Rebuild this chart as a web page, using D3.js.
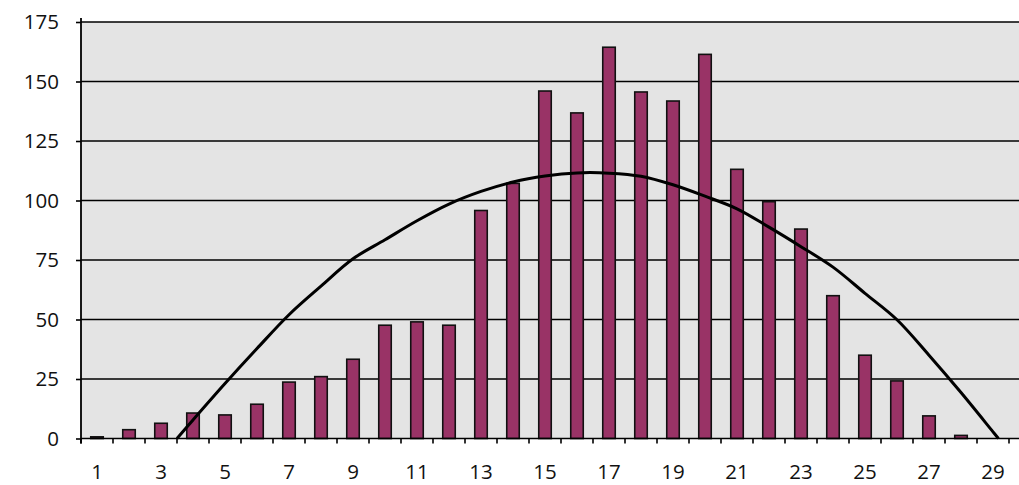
<!DOCTYPE html>
<html>
<head>
<meta charset="utf-8">
<script src="https://cdn.jsdelivr.net/npm/d3@7"></script>
<style>
  html, body { margin: 0; padding: 0; background: #ffffff; }
  svg { display: block; }
  .tick text { font-family: "Open Sans", "Noto Sans", sans-serif; font-size: 20.5px; fill: #111; }
</style>
</head>
<body>
<svg id="chart" width="1019" height="485"></svg>
<script>
// Category numbers along the horizontal axis
const categories = [1,2,3,4,5,6,7,8,9,10,11,12,13,14,15,16,17,18,19,20,21,22,23,24,25,26,27,28,29];
// Bar heights, one per category
const counts = [0.7,3.7,6.4,10.7,9.9,14.4,23.7,26,33.3,47.6,49,47.6,95.8,107.2,146,136.8,164.4,145.6,141.8,161.4,113.1,99.5,88,60,35,24.2,9.5,1.3,0];
// Fitted trend curve: positions along the category axis and its values
const trendX = [3.5,4,5,6,7,8,9,10,11,12,13,14,15,16,17,18,19,20,21,22,23,24,25,26,27,28,29,29.17];
const trendY = [0,7.8,23.1,37.8,52,64,75.5,83.5,91.5,98.5,103.8,107.8,110.3,111.6,111.5,110.2,106.6,101.8,96.5,88.8,80.6,72,61,49.9,35,19.3,2.8,0];
// Tick labels
const yTicks = [0,25,50,75,100,125,150,175];
const xTickLabels = [1,3,5,7,9,11,13,15,17,19,21,23,25,27,29];

const svg = d3.select("#chart");
const W = 1019;
const plotLeft = 81, plotRight = 1009, plotTop = 22, plotBase = 438.5;

const x = d3.scaleBand().domain(categories).range([plotLeft, plotRight]).padding(0);
const xLin = d3.scaleLinear().domain([0.5, categories.length + 0.5]).range([plotLeft, plotRight]);
const y = d3.scaleLinear().domain([0, 175]).range([plotBase, plotTop]);

// plot area background
svg.append("rect")
  .attr("x", plotLeft).attr("y", y(175))
  .attr("width", W - plotLeft).attr("height", plotBase - y(175))
  .attr("fill", "#e4e4e4");

// horizontal gridlines
svg.append("g").selectAll("line")
  .data(yTicks.filter(d => d > 0))
  .join("line")
  .attr("x1", plotLeft).attr("x2", W)
  .attr("y1", d => y(d)).attr("y2", d => y(d))
  .attr("stroke", "#000").attr("stroke-width", 1.5);

// bars
const barW = 12.5;
svg.append("g").selectAll("rect")
  .data(categories.map((c, i) => ({ c, v: counts[i] })).filter(d => d.v > 0))
  .join("rect")
  .attr("x", d => x(d.c) + x.bandwidth() / 2 - barW / 2)
  .attr("y", d => y(d.v))
  .attr("width", barW)
  .attr("height", d => plotBase - y(d.v))
  .attr("fill", "#993366")
  .attr("stroke", "#111")
  .attr("stroke-width", 1.6);

// trend curve
const line = d3.line()
  .x((d, i) => xLin(trendX[i]))
  .y((d, i) => y(trendY[i]))
  .curve(d3.curveCatmullRom.alpha(0.5));
svg.append("path")
  .attr("d", line(trendX))
  .attr("fill", "none")
  .attr("stroke", "#000")
  .attr("stroke-width", 3);

// horizontal axis line and tick marks between categories
svg.append("line")
  .attr("x1", plotLeft).attr("x2", W)
  .attr("y1", plotBase).attr("y2", plotBase)
  .attr("stroke", "#000").attr("stroke-width", 1.6);
svg.append("g").selectAll("line")
  .data(d3.range(0, categories.length + 1))
  .join("line")
  .attr("x1", k => xLin(k + 0.5)).attr("x2", k => xLin(k + 0.5))
  .attr("y1", plotBase).attr("y2", plotBase + 5)
  .attr("stroke", "#000").attr("stroke-width", 1.6);

// category labels, baseline kept just above the lower edge
const xAxis = svg.append("g")
  .attr("transform", `translate(0,${plotBase})`)
  .call(d3.axisBottom(x).tickValues(xTickLabels).tickSize(0));
xAxis.select(".domain").remove();
xAxis.selectAll(".tick text").attr("dy", null).attr("y", 479 - plotBase);

// value axis
const yAxis = svg.append("g")
  .attr("transform", `translate(${plotLeft},0)`)
  .call(d3.axisLeft(y).tickValues(yTicks).tickSize(5).tickPadding(17));
yAxis.select(".domain")
  .attr("d", `M0,${y(175) - 4}V${plotBase + 5}`)
  .attr("stroke", "#000").attr("stroke-width", 1.8);
yAxis.selectAll(".tick line").attr("stroke", "#000").attr("stroke-width", 1.6);
</script>
</body>
</html>
